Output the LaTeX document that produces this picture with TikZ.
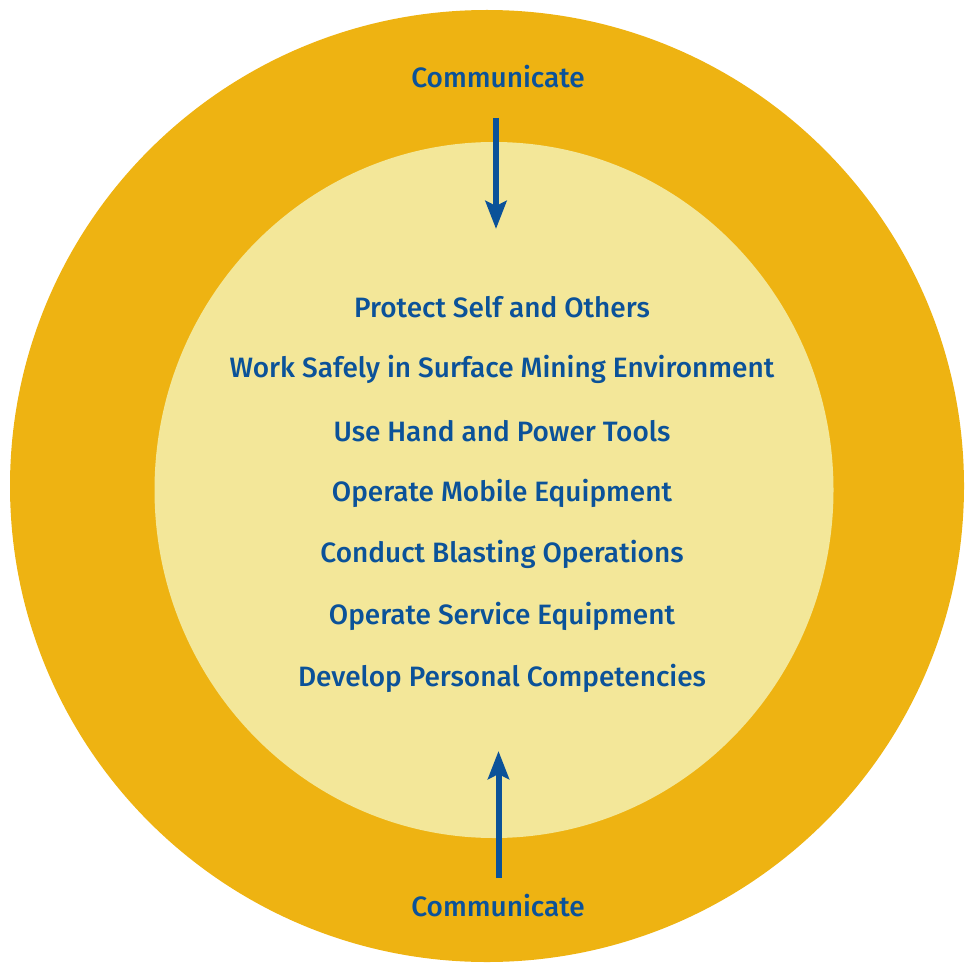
\documentclass[tikz,border=0pt]{standalone}
\usepackage{fontspec}
\setmainfont{Fira Sans}[UprightFont={* Medium}]
\usetikzlibrary{arrows.meta}
\definecolor{outerc}{HTML}{EEB312}
\definecolor{innerc}{HTML}{F3E799}
\definecolor{bluec}{HTML}{0B5299}
\tikzset{
  lbl/.style={text=bluec, font=\fontsize{28}{30}\selectfont, inner sep=0pt, anchor=center},
  flow/.style={draw=bluec, line width=6pt, -{Stealth[width=21pt,length=28pt,inset=5pt]}}
}
\begin{document}
\begin{tikzpicture}[x=1pt,y=-1pt]
\useasboundingbox (0,0) rectangle (964,968);
\begin{scope}
\clip (0,0) rectangle (964,968);
\fill[outerc] (487,486) ellipse [x radius=477pt, y radius=476pt];
\fill[innerc] (494,490) ellipse [x radius=339.5pt, y radius=348pt];
\end{scope}
\node[lbl] (ctop) at (498,77) {Communicate};
\node[lbl] (cbot) at (498,906) {Communicate};
\node[lbl] (l1) at (502,307) {Protect Self and Others};
\node[lbl] (l2) at (502,369) {Work Safely in Surface Mining Environment};
\node[lbl] (l3) at (502,431) {Use Hand and Power Tools};
\node[lbl] (l4) at (502,493) {Operate Mobile Equipment};
\node[lbl] (l5) at (502,554) {Conduct Blasting Operations};
\node[lbl] (l6) at (502,616) {Operate Service Equipment};
\node[lbl] (l7) at (502,678) {Develop Personal Competencies};
\coordinate (ta) at (496,118);
\coordinate (tb) at (496,229);
\coordinate (ba) at (498.5,878);
\coordinate (bb) at (498.5,751);
\draw[flow] (ta) -- (tb);
\draw[flow] (ba) -- (bb);
\end{tikzpicture}
\end{document}
